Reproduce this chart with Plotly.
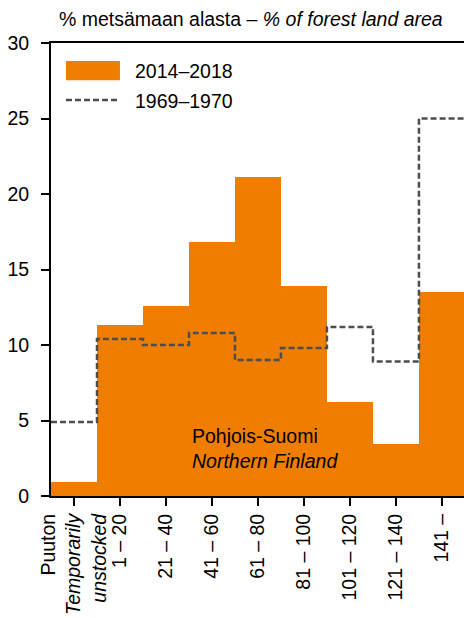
import numpy as np
import plotly.graph_objects as go

# Luokat / classes (m3/ha)
labels = ["Puuton<br><i>Temporarily</i><br><i>unstocked</i>", "1 – 20", "21 – 40", "41 – 60",
          "61 – 80", "81 – 100", "101 – 120", "121 – 140", "141 –"]
share_2014_2018 = [0.9, 11.3, 12.6, 16.8, 21.1, 13.9, 6.2, 3.45, 13.5]
share_1969_1970 = [4.9, 10.4, 10.0, 10.8, 9.0, 9.8, 11.2, 8.9, 25.0]

orange = "#EF7D00"
grey = "#4D4D4D"
font = "Liberation Sans, Arial, sans-serif"

x = np.arange(len(labels))
# portaat luokkarajoille
edges = np.arange(len(labels) + 1) - 0.5
step_y = share_1969_1970 + [share_1969_1970[-1]]

fig = go.Figure()
fig.add_trace(go.Bar(x=x, y=share_2014_2018, width=1, marker=dict(color=orange, line=dict(width=0)),
                     name="2014–2018", showlegend=False))
fig.add_trace(go.Scatter(x=edges, y=step_y, mode="lines", line_shape="hv",
                         line=dict(color=grey, width=2.5, dash="6px,3px"),
                         name="1969–1970", showlegend=False))

# selite käsin
fig.add_shape(type="rect", xref="paper", yref="paper", x0=0.0363, x1=0.167, y0=0.918, y1=0.960,
              fillcolor=orange, line=dict(width=0))
fig.add_shape(type="line", xref="paper", yref="paper", x0=0.0363, x1=0.163, y0=0.874, y1=0.874,
              line=dict(color=grey, width=2.5, dash="6px,3px"))
fig.add_annotation(text="2014–2018", xref="paper", yref="paper", x=0.198, y=0.938,
                   xanchor="left", yanchor="middle", showarrow=False)
fig.add_annotation(text="1969–1970", xref="paper", yref="paper", x=0.198, y=0.872,
                   xanchor="left", yanchor="middle", showarrow=False)

fig.add_annotation(text="% metsämaan alasta – <i>% of forest land area</i>", xref="paper", yref="paper",
                   x=0.015, y=1.053, xanchor="left", yanchor="middle", showarrow=False)
fig.add_annotation(text="Pohjois-Suomi<br><i>Northern Finland</i>", xref="paper", yref="paper",
                   x=0.3366, y=0.104, xanchor="left", yanchor="middle", align="left", showarrow=False)

fig.update_layout(
    width=464, height=618,
    margin=dict(l=51, r=0, t=43, b=122, autoexpand=False),
    plot_bgcolor="white", paper_bgcolor="white",
    font=dict(family=font, size=19.5, color="black"),
    bargap=0,
    xaxis=dict(range=[-0.5, 8.48], tickvals=x, ticktext=labels, tickangle=-90, automargin=False,
               showgrid=False, zeroline=False, showline=True, linecolor="black", linewidth=2,
               mirror=True, ticks="outside", ticklen=8, tickwidth=1.5, tickcolor="black"),
    yaxis=dict(range=[0, 30], tickvals=[0, 5, 10, 15, 20, 25, 30], showgrid=False, zeroline=False,
               automargin=False, showline=True, linecolor="black", linewidth=2, ticks="outside",
               ticklen=8, tickwidth=1.5, tickcolor="black", ticklabelstandoff=8),
)

# sivun oletusmarginaali pois, jotta kuva alkaa vasemmasta yläkulmasta
fig.write_html("out.html", config={"displayModeBar": False},
               post_script="document.body.style.margin='0';document.body.style.overflow='hidden';")
